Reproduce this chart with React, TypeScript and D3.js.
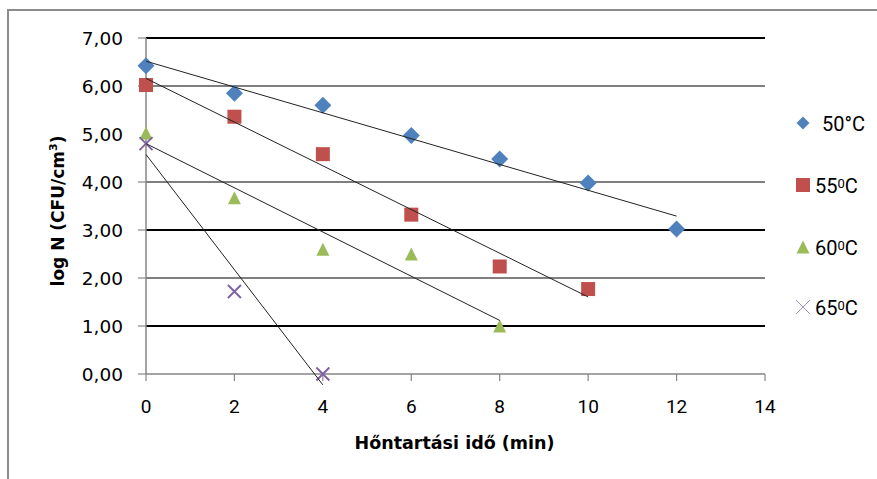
import React from "react";
import * as d3 from "d3";

const xTicks = [0, 2, 4, 6, 8, 10, 12, 14];
const yTicks = [0, 1, 2, 3, 4, 5, 6, 7];

const times50 = [0, 2, 4, 6, 8, 10, 12];
const values50 = [6.42, 5.85, 5.6, 4.97, 4.48, 3.98, 3.02];
const times55 = [0, 2, 4, 6, 8, 10];
const values55 = [6.02, 5.36, 4.58, 3.32, 2.24, 1.77];
const times60 = [0, 2, 4, 6, 8];
const values60 = [5.02, 3.67, 2.6, 2.5, 1.0];
const times65 = [0, 2, 4];
const values65 = [4.8, 1.72, 0.0];

const seriesTemps = ["50", "55", "60", "65"];
const degreeMarks = ["°", "0", "0", "0"];

const W = 877;
const H = 479;
const margin = { left: 146, right: 765, top: 38, bottom: 374 };

function regress(xs: number[], ys: number[]) {
  const mx = d3.mean(xs)!;
  const my = d3.mean(ys)!;
  let sxy = 0, sxx = 0;
  xs.forEach((x, i) => {
    sxy += (x - mx) * (ys[i] - my);
    sxx += (x - mx) * (x - mx);
  });
  const b = sxy / sxx;
  return { a: my - b * mx, b };
}

export default function App() {
  const x = d3.scaleLinear().domain([0, 14]).range([margin.left, margin.right]);
  const y = d3.scaleLinear().domain([0, 7]).range([margin.bottom, margin.top]);

  const series = [
    { name: seriesTemps[0], xs: times50, ys: values50, color: "#4F81BD", shape: "diamond" },
    { name: seriesTemps[1], xs: times55, ys: values55, color: "#C0504D", shape: "square" },
    { name: seriesTemps[2], xs: times60, ys: values60, color: "#9BBB59", shape: "triangle" },
    { name: seriesTemps[3], xs: times65, ys: values65, color: "#8064A2", shape: "x" },
  ];

  const marker = (shape: string, color: string, cx: number, cy: number, s: number, legend = false, key?: any) => {
    if (shape === "diamond") {
      const r = s / 2;
      return (
        <path key={key} d={`M${cx},${cy - r}L${cx + r},${cy}L${cx},${cy + r}L${cx - r},${cy}Z`} fill={color} />
      );
    }
    if (shape === "square") {
      return <rect key={key} x={cx - s / 2} y={cy - s / 2} width={s} height={s} fill={color} />;
    }
    if (shape === "triangle") {
      const h = s;
      return (
        <path key={key} d={`M${cx},${cy - h / 2}L${cx + s / 2},${cy + h / 2}L${cx - s / 2},${cy + h / 2}Z`} fill={color} />
      );
    }
    const r = s / 2;
    return (
      <path
        key={key}
        d={`M${cx - r},${cy - r}L${cx + r},${cy + r}M${cx - r},${cy + r}L${cx + r},${cy - r}`}
        stroke={color}
        strokeWidth={legend ? 1 : 2}
        opacity={legend ? 0.7 : 1}
        fill="none"
      />
    );
  };

  const markerSize: Record<string, number> = { diamond: 17, square: 14, triangle: 13, x: 13 };
  const legendSize: Record<string, number> = { diamond: 13, square: 14, triangle: 13, x: 14 };

  const gridWidth = (v: number) => (v === 5 ? 0 : v === 7 || v === 3 || v === 1 ? 2 : 1.1);

  const legendY = [123, 185, 247, 307];
  const legendTextX = [822, 815, 815, 815];

  return (
    <svg width={W} height={H} style={{ position: "absolute", left: 0, top: 0, background: "#fff" }}>
      <rect x={8} y={10} width={900} height={500} fill="#fff" stroke="#8c8c8c" strokeWidth={2} />
      {yTicks.filter((v) => v > 0).map((v) =>
        gridWidth(v) > 0 ? (
          <line key={v} x1={margin.left} x2={margin.right} y1={y(v)} y2={y(v)} stroke="#000" strokeWidth={gridWidth(v)} />
        ) : null
      )}
      <line x1={margin.left} x2={margin.left} y1={margin.top} y2={margin.bottom} stroke="#868686" strokeWidth={1.5} />
      <line x1={margin.left} x2={margin.right} y1={margin.bottom} y2={margin.bottom} stroke="#868686" strokeWidth={1.5} />
      {yTicks.filter((v) => v !== 5).map((v) => (
        <line key={v} x1={margin.left - 8} x2={margin.left} y1={y(v)} y2={y(v)} stroke="#868686" strokeWidth={1.2} />
      ))}
      {xTicks.map((v) => (
        <line key={v} x1={x(v)} x2={x(v)} y1={margin.bottom} y2={margin.bottom + 7} stroke="#868686" strokeWidth={1.2} />
      ))}
      {yTicks.map((v) => (
        <text key={v} x={123} y={y(v) + 6.5} textAnchor="end" fontFamily="DejaVu Sans" fontSize={18.5} fill="#000">
          {d3.format(".2f")(v).replace(".", ",")}
        </text>
      ))}
      {xTicks.map((v) => (
        <text key={v} x={x(v)} y={413} textAnchor="middle" fontFamily="Roboto" fontSize={19} fill="#000">
          {v}
        </text>
      ))}
      {series.map((s) => (
        <g key={s.name}>
          {s.xs.map((t, i) => marker(s.shape, s.color, x(t), y(s.ys[i]), markerSize[s.shape], false, i))}
        </g>
      ))}
      {series.map((s) => {
        const { a, b } = regress(s.xs, s.ys);
        const x0 = d3.min(s.xs)!;
        const x1 = d3.max(s.xs)!;
        return (
          <line key={s.name} x1={x(x0)} y1={y(a + b * x0)} x2={x(x1)} y2={y(a + b * x1)} stroke="#222" strokeWidth={1} />
        );
      })}
      {series.map((s, i) => (
        <g key={s.name}>
          {marker(s.shape, s.color, 803, legendY[i], legendSize[s.shape], true)}
          <text x={legendTextX[i]} y={legendY[i] + 7.5} fontFamily="Roboto" fontSize={20} fill="#000">
            {s.name}
            {i === 0 ? (
              <tspan>{degreeMarks[i]}</tspan>
            ) : (
              <tspan fontSize={13} dy={-5}>{degreeMarks[i]}</tspan>
            )}
            <tspan dy={i === 0 ? 0 : 5}>C</tspan>
          </text>
        </g>
      ))}
      <text
        transform={`translate(64,211) rotate(-90)`}
        textAnchor="middle"
        fontFamily="DejaVu Sans"
        fontWeight="bold"
        fontSize={17}
        fill="#000"
      >
        log N (CFU/cm<tspan fontSize={11} dy={-7}>3</tspan>
        <tspan dy={7}>)</tspan>
      </text>
      <text
        x={(margin.left + margin.right) / 2 - 1}
        y={449}
        textAnchor="middle"
        fontFamily="DejaVu Sans"
        fontWeight="bold"
        fontSize={17.5}
        fill="#000"
      >
        Hőntartási idő (min)
      </text>
    </svg>
  );
}
